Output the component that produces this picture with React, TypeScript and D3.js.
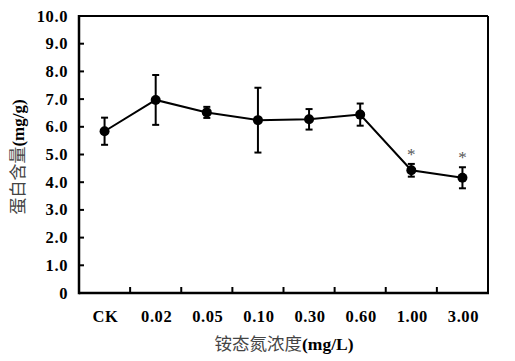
import * as d3 from "d3";

const categories = ["CK", "0.02", "0.05", "0.10", "0.30", "0.60", "1.00", "3.00"];
const means = [5.84, 6.97, 6.52, 6.24, 6.27, 6.44, 4.43, 4.16];
const errors = [0.49, 0.9, 0.2, 1.17, 0.37, 0.4, 0.23, 0.38];
const marked = [false, false, false, false, false, false, true, true];
const yTicks = [0, 1, 2, 3, 4, 5, 6, 7, 8, 9, 10];

const W = 515;
const H = 361;
const left = 79;
const right = 488;
const top = 16;
const bottom = 293;

const serif = "'Liberation Serif', 'Times New Roman', serif";
const cjk = "'Noto Sans CJK SC', sans-serif";

export default function App() {
  const x = d3.scaleBand<string>().domain(categories).range([left, right]).padding(0);
  const y = d3.scaleLinear().domain([0, 10]).range([bottom, top]);
  const cx = (c: string) => (x(c) ?? 0) + x.bandwidth() / 2;

  const line = d3
    .line<number>()
    .x((_, i) => cx(categories[i]))
    .y((d) => y(d));

  const cap = 3.5;

  return (
    <svg width={W} height={H} style={{ position: "absolute", left: 0, top: 0, background: "#fff" }}>
      {/* frame */}
      <line x1={left} x2={right} y1={top} y2={top} stroke="#000" strokeWidth={2} />
      <line x1={right} x2={right} y1={top} y2={bottom} stroke="#000" strokeWidth={2} />
      <line x1={left} x2={left} y1={top - 1} y2={bottom + 1.25} stroke="#000" strokeWidth={2.5} />
      <line x1={left} x2={right + 1} y1={bottom} y2={bottom} stroke="#000" strokeWidth={2.5} />

      {/* y ticks */}
      {yTicks.map((t) => (
        <g key={`yt-${t}`}>
          {t > 0 && t < 10 && (
            <line x1={left} x2={left + 5} y1={y(t)} y2={y(t)} stroke="#000" strokeWidth={2} />
          )}
          <text
            x={68}
            y={y(t)}
            textAnchor="end"
            dominantBaseline="central"
            fontFamily={serif}
            fontWeight="bold"
            fontSize={16.5}
            letterSpacing={0.6}
          >
            {t === 0 ? "0" : t.toFixed(1)}
          </text>
        </g>
      ))}

      {/* x ticks */}
      {categories.slice(1).map((c) => (
        <line
          key={`xt-${c}`}
          x1={x(c)}
          x2={x(c)}
          y1={bottom}
          y2={bottom - 6}
          stroke="#000"
          strokeWidth={2}
        />
      ))}
      {categories.map((c) => (
        <text
          key={`xl-${c}`}
          x={cx(c) + 1}
          y={322}
          textAnchor="middle"
          fontFamily={serif}
          fontWeight="bold"
          fontSize={16.5}
          letterSpacing={0.6}
        >
          {c}
        </text>
      ))}

      {/* error bars */}
      {means.map((m, i) => {
        const px = cx(categories[i]);
        const y1 = y(m + errors[i]);
        const y2 = y(m - errors[i]);
        return (
          <g key={`err-${i}`} stroke="#000" strokeWidth={2}>
            <line x1={px} x2={px} y1={y1} y2={y2} />
            <line x1={px - cap} x2={px + cap} y1={y1} y2={y1} />
            <line x1={px - cap} x2={px + cap} y1={y2} y2={y2} />
          </g>
        );
      })}

      {/* line */}
      <path d={line(means) ?? ""} fill="none" stroke="#000" strokeWidth={2} />
      {means.map((m, i) => (
        <circle key={`pt-${i}`} cx={cx(categories[i])} cy={y(m)} r={5} fill="#000" />
      ))}

      {/* significance marks */}
      {means.map((m, i) =>
        marked[i] ? (
          <text
            key={`star-${i}`}
            x={cx(categories[i])}
            y={y(m + errors[i]) - 4}
            textAnchor="middle"
            fontFamily={serif}
            fontSize={17}
            fill="#555"
          >
            *
          </text>
        ) : null
      )}

      {/* x title */}
      <text x={284} y={350} textAnchor="middle" fontSize={17.5} fill="#444">
        <tspan fontFamily={cjk}>铵态氮浓度</tspan>
        <tspan fontFamily={serif} fontWeight="bold" fill="#000">(mg/L)</tspan>
      </text>

      {/* y title */}
      <text
        transform={`translate(24, ${157}) rotate(-90)`}
        textAnchor="middle"
        fontSize={17}
        fill="#444"
      >
        <tspan fontFamily={cjk}>蛋白含量</tspan>
        <tspan fontFamily={serif} fontWeight="bold" fill="#000">(mg/g)</tspan>
      </text>
    </svg>
  );
}
